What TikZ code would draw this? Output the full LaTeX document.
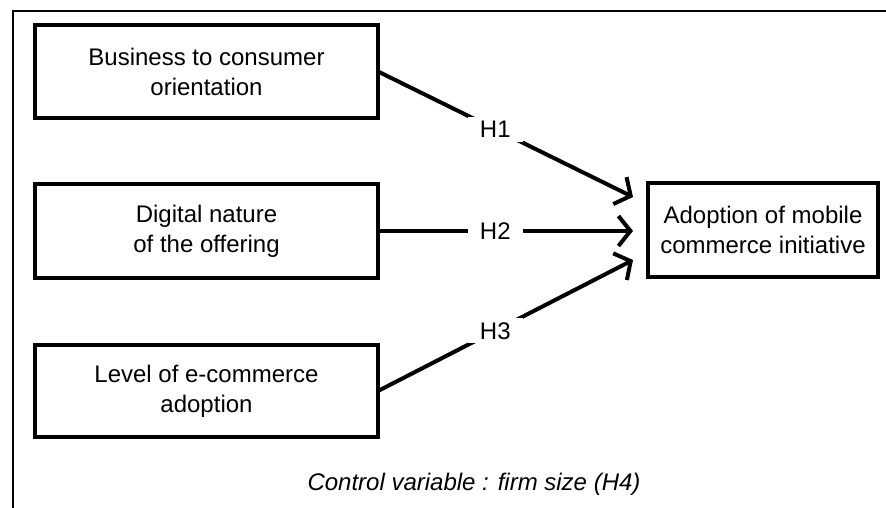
\documentclass[tikz,border=0pt]{standalone}
\usepackage{fontspec}
\setmainfont{Liberation Sans}
\usetikzlibrary{arrows.meta}
\begin{document}
\begin{tikzpicture}[x=1pt,y=-1pt,
  box/.style={draw, line width=4.5pt, inner sep=0pt, outer sep=0pt,
    align=center, font=\fontsize{24}{30}\selectfont},
  link/.style={line width=4pt, -{Straight Barb[length=12pt,width=30pt]}},
  hyp/.style={fill=white, inner xsep=12pt, inner ysep=4pt, text height=17pt,
    text depth=0pt, font=\fontsize{24}{30}\selectfont},
]
\useasboundingbox (0,0) rectangle (886,508);

% open frame (top and left sides only)
\draw[line width=2.5pt] (13,508) -- (13,11) -- (886,11);

% antecedent boxes
\node[box, minimum width=343pt, minimum height=93pt] (b1) at (206.5,71.5)
  {Business to consumer\\orientation};
\node[box, minimum width=343pt, minimum height=94pt] (b2) at (206.5,231)
  {Digital nature\\of the offering};
\node[box, minimum width=343pt, minimum height=92pt] (b3) at (206.5,391)
  {Level of e-commerce\\adoption};

% outcome box
\node[box, minimum width=230pt, minimum height=94pt] (tgt) at (763,230)
  {Adoption of mobile\\commerce initiative};

% arrow end points in front of the outcome box
\coordinate (t1) at (633,197);
\coordinate (t2) at (633,231);
\coordinate (t3) at (633,260);

% hypothesised paths
\draw[link] (b1.east) -- node[hyp, pos=0.46] {H1} (t1);
\draw[link] (b2.east) -- node[hyp, pos=0.46] {H2} (t2);
\draw[link] (b3.east) -- node[hyp, pos=0.46] {H3} (t3);

% control variable note
\node[font=\fontsize{24}{30}\selectfont\itshape] (ctrl) at (474,484)
  {Control variable : firm size (H4)};
\end{tikzpicture}
\end{document}
